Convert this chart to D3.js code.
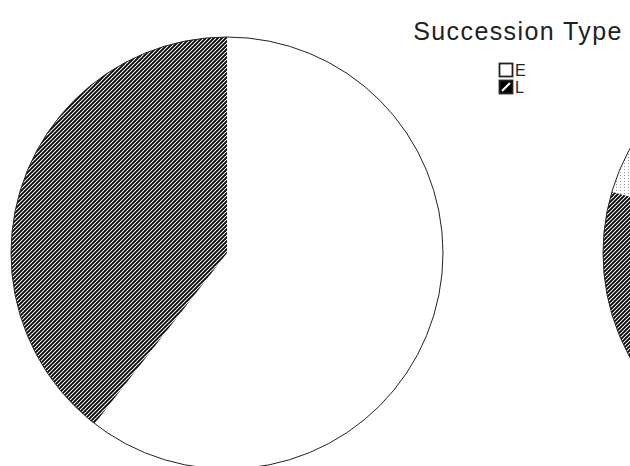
<!DOCTYPE html>
<html>
<head>
<meta charset="utf-8">
<script src="https://cdn.jsdelivr.net/npm/d3@7"></script>
<style>
  body { margin: 0; background: #fff; }
  svg { display: block; }
</style>
</head>
<body>
<script>
// chart data
var types = ["E", "L"];
var pieLeft = [60.5, 39.5];          // percent E, L
var pieRightKeys = ["E", "L", "M"];
var pieRight = [55.6, 24.0, 20.4];   // right pie, mostly off screen

var svgWidth = 630;
var svgHeight = 466;
var radius = 216;

var svg = d3.select("body")
  .append("svg")
  .attr("width", svgWidth)
  .attr("height", svgHeight);

// fill patterns
var defs = svg.append("defs");

var hatch = defs.append("pattern")
  .attr("id", "hatch")
  .attr("patternUnits", "userSpaceOnUse")
  .attr("width", 4)
  .attr("height", 4);
hatch.append("rect").attr("width", 4).attr("height", 4).attr("fill", "#fff");
hatch.append("path")
  .attr("d", "M0,4 L4,0 M-1,1 L1,-1 M3,5 L5,3")
  .attr("stroke", "#000")
  .attr("stroke-width", 1.8);

var dots = defs.append("pattern")
  .attr("id", "dots")
  .attr("patternUnits", "userSpaceOnUse")
  .attr("width", 4)
  .attr("height", 3);
dots.append("rect").attr("width", 4).attr("height", 3).attr("fill", "#fff");
dots.append("rect").attr("x", 1).attr("width", 1).attr("height", 1).attr("fill", "#999");

var fills = { E: "#fff", L: "url(#hatch)", M: "url(#dots)" };

var pie = d3.pie().sort(null).value(d => d.value);
var arc = d3.arc().innerRadius(0).outerRadius(radius);

function drawPie(cx, cy, keys, values) {
  var data = keys.map((k, i) => ({ key: k, value: values[i] }));
  var g = svg.append("g").attr("transform", `translate(${cx}, ${cy})`);

  g.selectAll(".slice")
    .data(pie(data))
    .enter()
    .append("path")
    .attr("class", "slice")
    .attr("d", arc)
    .attr("fill", d => fills[d.data.key])
    .attr("stroke", "none");

  // outline
  g.append("circle")
    .attr("r", radius)
    .attr("fill", "none")
    .attr("stroke", "#222")
    .attr("stroke-width", 1);
}

drawPie(227, 253, types, pieLeft);
drawPie(819, 253, pieRightKeys, pieRight);

// legend
var legend = svg.append("g").attr("transform", "translate(518, 0)");

legend.append("text")
  .attr("x", 0)
  .attr("y", 40)
  .attr("text-anchor", "middle")
  .attr("font-family", "Liberation Sans, Arial, sans-serif")
  .attr("font-size", 25)
  .attr("letter-spacing", 1.4)
  .attr("fill", "#222")
  .text("Succession Type");

var item = legend.selectAll(".item")
  .data(types)
  .enter()
  .append("g")
  .attr("class", "item")
  .attr("transform", (d, i) => `translate(-19, ${63 + i * 17})`);

item.append("rect")
  .attr("x", 0.5)
  .attr("y", 0.5)
  .attr("width", 13)
  .attr("height", 13)
  .attr("fill", d => d === "E" ? "#fff" : "#000")
  .attr("stroke", "#222")
  .attr("stroke-width", 1.8);

item.filter(d => d === "L")
  .append("line")
  .attr("x1", 3).attr("y1", 11)
  .attr("x2", 11).attr("y2", 3)
  .attr("stroke", "#fff")
  .attr("stroke-width", 2.2);

item.append("text")
  .attr("x", 16)
  .attr("y", 13)
  .attr("font-family", "Liberation Sans, Arial, sans-serif")
  .attr("font-size", 16)
  .attr("fill", "#222")
  .text(d => d);
</script>
</body>
</html>
